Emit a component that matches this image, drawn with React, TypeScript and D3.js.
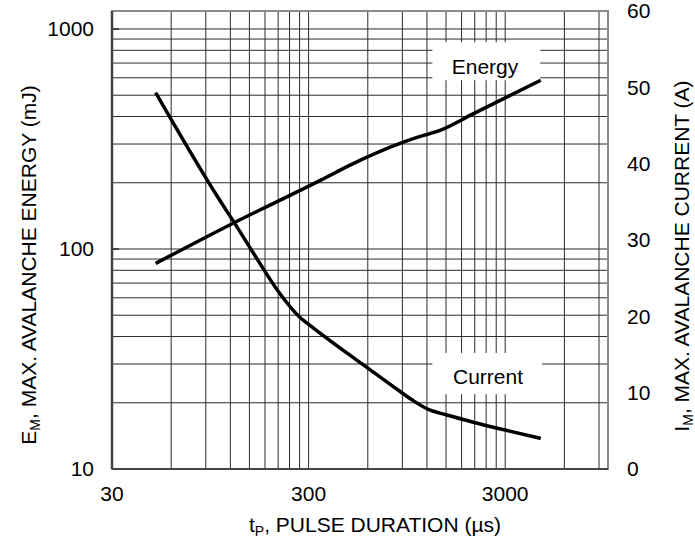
import React from 'react';
import * as d3 from 'd3';

// pulse duration (µs) and the two curves
const energyT = [50, 124, 348, 485, 903, 1098, 1387, 2047, 4550];
const energyMJ = [86, 131, 206, 240, 305, 324, 345, 410, 585];

const currentT = [50, 106, 124, 157, 214, 270, 320, 545, 800, 1015, 1220, 1500, 2088, 3000, 4550];
const currentA = [49.3, 35.2, 32.5, 28.3, 23.0, 19.9, 18.4, 14.0, 10.9, 9.0, 7.8, 7.1, 6.1, 5.1, 4.0];

const xTickLabels = [30, 300, 3000];
const yLeftTicks = [10, 100, 1000];
const yRightTicks = [0, 10, 20, 30, 40, 50, 60];
const gridMultipliers = [2, 3, 4, 5, 6, 7, 8, 9, 10];

const W = 695;
const H = 540;
const margin = { top: 11, right: 87, bottom: 71, left: 112 };
const innerW = W - margin.left - margin.right;
const innerH = H - margin.top - margin.bottom;

const font = '"Liberation Sans", Arial, sans-serif';
const fs = 21;

export default function App() {
  const x = d3.scaleLog().domain([30, 10000]).range([0, innerW]);
  const yE = d3.scaleLog().domain([10, 1207]).range([innerH, 0]);
  const yI = d3.scaleLinear().domain([0, 60]).range([innerH, 0]);

  // vertical grid: 30·k per decade
  const xGrid: number[] = [];
  [30, 300, 3000].forEach((b) => gridMultipliers.forEach((k) => {
    const v = b * k;
    if (v < 10000) xGrid.push(v);
  }));
  // horizontal grid: 10..1000 log lines
  const yGrid: number[] = [10];
  [10, 100].forEach((b) => gridMultipliers.forEach((k) => yGrid.push(b * k)));

  const energy = energyT.map((t, i) => ({ t, v: energyMJ[i] }));
  const current = currentT.map((t, i) => ({ t, v: currentA[i] }));

  const lineE = d3.line<{ t: number; v: number }>()
    .x((d) => x(d.t))
    .y((d) => yE(d.v))
    .curve(d3.curveMonotoneX);
  const lineI = d3.line<{ t: number; v: number }>()
    .x((d) => x(d.t))
    .y((d) => yI(d.v))
    .curve(d3.curveMonotoneX);

  // white boxes behind the curve names
  const energyBox = { x0: x(1278), x1: x(4520), y0: yE(870), y1: yE(585) };
  const currentBox = { x0: x(1278), x1: x(4620), y0: yI(15.2), y1: yI(9.8) };

  return (
    <svg width={W} height={H} style={{ position: 'absolute', left: 0, top: 0, background: '#fff' }}
      fontFamily={font}>
      <g transform={`translate(${margin.left},${margin.top})`}>
        {/* grid */}
        {xGrid.map((v) => (
          <line key={'vx' + v} x1={x(v)} x2={x(v)} y1={0} y2={innerH} stroke="#2a2a2a" strokeWidth={1} />
        ))}
        {yGrid.map((v) => (
          <line key={'hy' + v} x1={0} x2={innerW} y1={yE(v)} y2={yE(v)} stroke="#2a2a2a" strokeWidth={1} />
        ))}

        <rect x={energyBox.x0} y={energyBox.y0} width={energyBox.x1 - energyBox.x0}
          height={energyBox.y1 - energyBox.y0} fill="#fff" />
        <rect x={currentBox.x0} y={currentBox.y0} width={currentBox.x1 - currentBox.x0}
          height={currentBox.y1 - currentBox.y0} fill="#fff" />

        {/* frame */}
        <rect x={0} y={0} width={innerW} height={innerH} fill="none" stroke="#8a8a8a" strokeWidth={2} />
        <line x1={0} x2={0} y1={0} y2={innerH} stroke="#444" strokeWidth={2.5} />
        <line x1={0} x2={innerW} y1={innerH} y2={innerH} stroke="#444" strokeWidth={2} />
        {yLeftTicks.map((v) => (
          <line key={'t' + v} x1={0} x2={7} y1={yE(v)} y2={yE(v)} stroke="#444" strokeWidth={2} />
        ))}

        {/* curves */}
        <path d={lineE(energy) || ''} fill="none" stroke="#000" strokeWidth={3.5} />
        <path d={lineI(current) || ''} fill="none" stroke="#000" strokeWidth={3.5} />

        <text x={485 - margin.left} y={energyBox.y1 - 6} textAnchor="middle" fontSize={fs}>Energy</text>
        <text x={488 - margin.left} y={currentBox.y1 - 10} textAnchor="middle" fontSize={fs}>Current</text>

        {/* left axis labels */}
        {yLeftTicks.map((v) => (
          <text key={'l' + v} x={-18} y={yE(v)} dy="0.35em" textAnchor="end" fontSize={fs}>{v}</text>
        ))}
        {/* right axis labels */}
        {yRightTicks.map((v) => (
          <text key={'r' + v} x={innerW + 19} y={yI(v)} dy="0.35em" textAnchor="start" fontSize={fs}>{v}</text>
        ))}
        {/* bottom axis labels */}
        {xTickLabels.map((v) => (
          <text key={'b' + v} x={x(v)} y={innerH + 32} textAnchor="middle" fontSize={fs}>{v}</text>
        ))}

        <text x={375 - margin.left} y={innerH + 63} textAnchor="middle" fontSize={fs}>
          t<tspan fontSize={14} dy={4}>P</tspan><tspan dy={-4}>, PULSE DURATION (µs)</tspan>
        </text>
      </g>

      <text transform={`translate(36,265) rotate(-90)`} textAnchor="middle" fontSize={fs}>
        E<tspan fontSize={14} dy={4}>M</tspan><tspan dy={-4}>, MAX. AVALANCHE ENERGY (mJ)</tspan>
      </text>
      <text transform={`translate(689,256) rotate(-90)`} textAnchor="middle" fontSize={fs}>
        I<tspan fontSize={14} dy={4}>M</tspan><tspan dy={-4}>, MAX. AVALANCHE CURRENT (A)</tspan>
      </text>
    </svg>
  );
}
